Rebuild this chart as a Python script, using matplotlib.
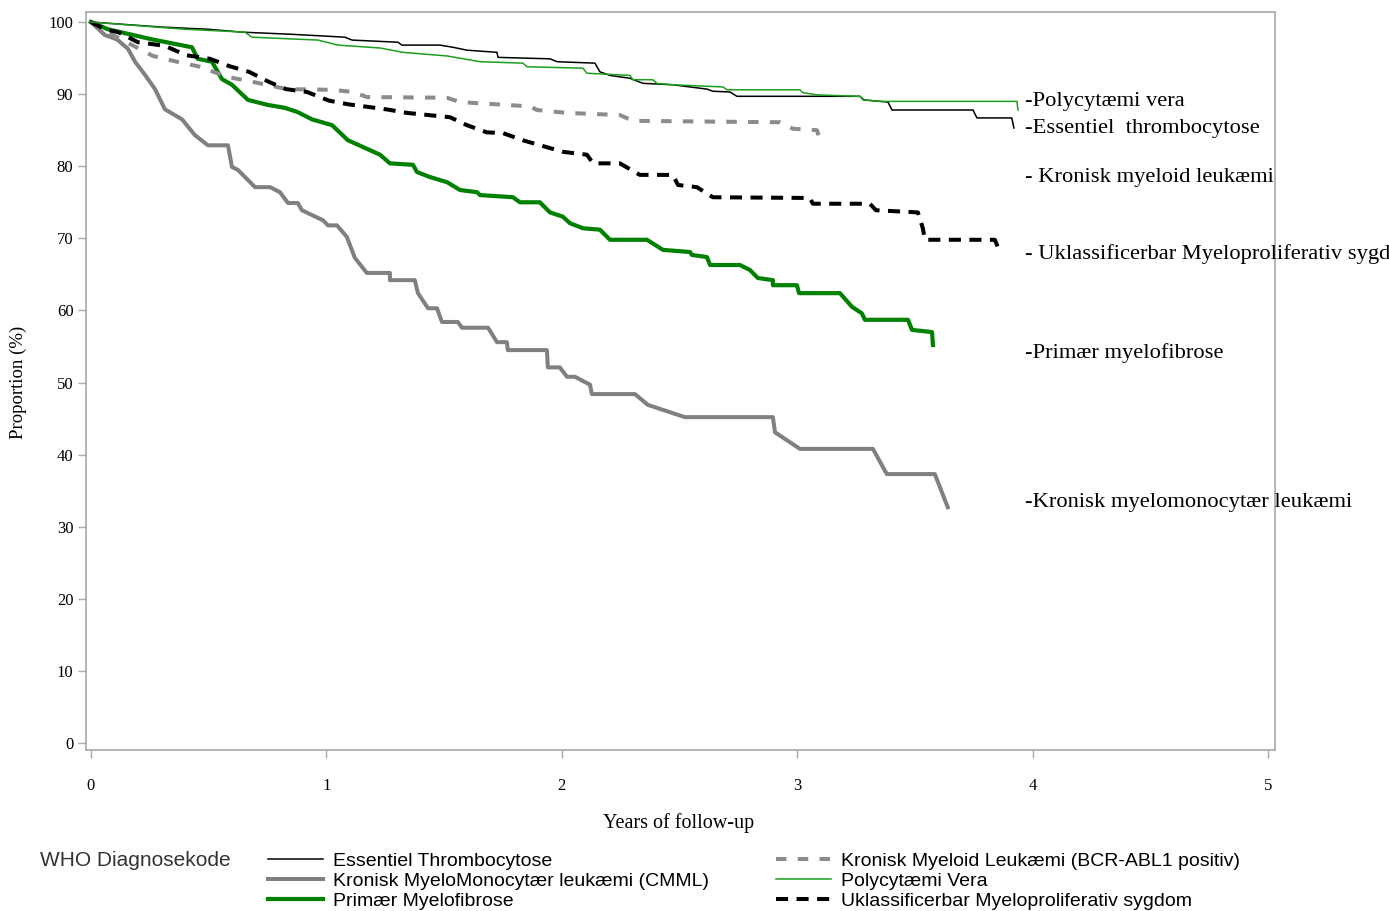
import matplotlib
matplotlib.use("Agg")
import matplotlib.pyplot as plt
from matplotlib.lines import Line2D

# Kaplan-Meier style curves (years, %)
et_t = [0, 0.302, 0.497, 0.641, 0.854, 1.079, 1.109, 1.304, 1.321, 1.483, 1.538, 1.597, 1.725, 1.729,
        1.950, 1.980, 2.141, 2.162, 2.205, 2.290, 2.345, 2.472, 2.617, 2.642, 2.715, 2.744, 3.267,
        3.284, 3.386, 3.403, 3.747, 3.764, 3.912, 3.921]
et_s = [100, 99.3, 99.0, 98.6, 98.3, 97.9, 97.5, 97.2, 96.8, 96.8, 96.5, 96.1, 95.8, 95.1,
        94.9, 94.5, 94.3, 93.1, 92.6, 92.2, 91.5, 91.3, 90.7, 90.4, 90.3, 89.7, 89.7,
        89.2, 88.9, 87.8, 87.8, 86.7, 86.7, 85.3]

cmml_t = [0, 0.059, 0.110, 0.157, 0.187, 0.229, 0.272, 0.314, 0.387, 0.442, 0.497, 0.582, 0.599,
          0.624, 0.697, 0.761, 0.803, 0.837, 0.879, 0.896, 0.986, 1.007, 1.045, 1.087, 1.121, 1.172,
          1.270, 1.270, 1.376, 1.389, 1.432, 1.470, 1.491, 1.559, 1.576, 1.687, 1.725, 1.767, 1.771,
          1.937, 1.941, 1.992, 2.022, 2.056, 2.120, 2.128, 2.311, 2.366, 2.523, 2.897, 2.906, 3.012,
          3.322, 3.381, 3.585, 3.640]
cmml_s = [100, 98.2, 97.6, 96.3, 94.5, 92.7, 90.7, 87.9, 86.5, 84.3, 82.9, 82.9, 79.9,
          79.5, 77.1, 77.1, 76.4, 74.9, 74.9, 73.9, 72.5, 71.8, 71.8, 70.2, 67.3, 65.2,
          65.2, 64.2, 64.2, 62.4, 60.3, 60.3, 58.4, 58.4, 57.6, 57.6, 55.6, 55.6, 54.5,
          54.5, 52.1, 52.1, 50.8, 50.8, 49.7, 48.4, 48.4, 46.9, 45.2, 45.2, 43.1, 40.8,
          40.8, 37.3, 37.3, 32.7]

pmf_t = [0, 0.072, 0.259, 0.429, 0.454, 0.514, 0.556, 0.599, 0.667, 0.752, 0.824, 0.879, 0.939,
         1.024, 1.092, 1.228, 1.270, 1.368, 1.385, 1.440, 1.512, 1.568, 1.640, 1.653, 1.793, 1.822,
         1.907, 1.950, 2.005, 2.035, 2.090, 2.162, 2.205, 2.362, 2.430, 2.545, 2.553, 2.617, 2.630,
         2.757, 2.800, 2.833, 2.897, 2.897, 2.999, 3.008, 3.182, 3.233, 3.275, 3.288, 3.471, 3.488,
         3.573, 3.577]
pmf_s = [100, 99.0, 97.6, 96.5, 94.9, 94.5, 92.1, 91.3, 89.2, 88.5, 88.1, 87.5, 86.5,
         85.7, 83.6, 81.6, 80.4, 80.2, 79.2, 78.5, 77.8, 76.7, 76.4, 76.0, 75.7, 75.0,
         75.0, 73.6, 73.0, 72.1, 71.4, 71.2, 69.8, 69.8, 68.4, 68.1, 67.7, 67.4, 66.3,
         66.3, 65.6, 64.5, 64.2, 63.5, 63.5, 62.4, 62.4, 60.5, 59.6, 58.7, 58.7, 57.3,
         57.0, 55.2]

cml_t = [0, 0.025, 0.093, 0.263, 0.365, 0.463, 0.578, 0.688, 0.833, 1.028, 1.113, 1.172, 1.512,
         1.568, 1.865, 1.895, 2.022, 2.247, 2.302, 2.927, 2.982, 3.084, 3.105]
cml_s = [100, 99.6, 98.2, 95.3, 94.5, 93.8, 92.4, 91.7, 90.7, 90.6, 90.3, 89.6, 89.5,
         88.9, 88.3, 87.8, 87.4, 87.1, 86.3, 86.1, 85.2, 85.0, 82.9]

pv_t = [0, 0.399, 0.654, 0.684, 0.964, 1.049, 1.228, 1.325, 1.512, 1.653, 1.835, 1.852, 2.090,
        2.107, 2.290, 2.302, 2.387, 2.404, 2.472, 2.685, 2.702, 3.012, 3.025, 3.084, 3.267, 3.280,
        3.352, 3.934, 3.938]
pv_s = [100, 99.0, 98.6, 97.9, 97.5, 96.8, 96.4, 95.8, 95.3, 94.5, 94.3, 93.8, 93.6,
        92.9, 92.6, 92.0, 92.0, 91.5, 91.3, 91.0, 90.6, 90.6, 90.2, 89.9, 89.7, 89.2,
        89.0, 89.0, 87.8]

ums_t = [0, 0.059, 0.115, 0.200, 0.314, 0.404, 0.506, 0.586, 0.671, 0.756, 0.828, 0.918, 1.011,
         1.092, 1.253, 1.342, 1.525, 1.597, 1.682, 1.750, 1.835, 2.005, 2.107, 2.133, 2.247, 2.332,
         2.472, 2.494, 2.574, 2.642, 3.054, 3.067, 3.309, 3.335, 3.513, 3.534, 3.543, 3.840, 3.862]
ums_s = [100, 99.0, 98.6, 97.2, 96.7, 95.4, 94.9, 93.9, 93.1, 91.7, 90.7, 90.3, 89.1,
         88.6, 87.9, 87.4, 86.8, 85.7, 84.7, 84.6, 83.6, 82.0, 81.6, 80.4, 80.4, 78.8,
         78.8, 77.4, 77.1, 75.7, 75.6, 74.8, 74.8, 73.9, 73.6, 71.4, 69.8, 69.8, 68.0]

legend_labels = ['Essentiel Thrombocytose', 'Kronisk MyeloMonocytær leukæmi (CMML)', 'Primær Myelofibrose',
                 'Kronisk Myeloid Leukæmi (BCR-ABL1 positiv)', 'Polycytæmi Vera',
                 'Uklassificerbar Myeloproliferativ sygdom']

# end-of-curve labels (text, y position in %)
end_labels = ['-Polycytæmi vera', '-Essentiel  thrombocytose', '- Kronisk myeloid leukæmi',
              '- Uklassificerbar Myeloproliferativ sygd', '-Primær myelofibrose',
              '-Kronisk myelomonocytær leukæmi']
end_label_y = [89.0, 85.3, 78.4, 67.8, 54.1, 33.3]
end_label_x = 3.968

fig = plt.figure(figsize=(13.89, 9.11), dpi=100)
ax = fig.add_axes([0.0619, 0.1767, 0.8560, 0.8101])

styles = [
    dict(color='black', lw=1.1),                                   # ET
    dict(color='#808080', lw=2.9),                                 # CMML
    dict(color='#008000', lw=3.0),                                 # PMF
    dict(color='#8c8c8c', lw=2.9, dashes=(2.6, 2.8)),              # CML
    dict(color='#1e9e1e', lw=1.1),                                 # PV
    dict(color='black', lw=2.9, dashes=(3.0, 2.1)),                # UMS
]
series = [(et_t, et_s), (cmml_t, cmml_s), (pmf_t, pmf_s), (cml_t, cml_s), (pv_t, pv_s), (ums_t, ums_s)]
# draw thick ones first so thin lines stay visible on top
order = [1, 2, 3, 5, 0, 4]
for i in order:
    t, s = series[i]
    ax.plot(t, s, **styles[i])

ax.set_xlim(-0.0212, 5.030)
ax.set_ylim(-0.97, 101.39)
ax.set_xticks([0, 1, 2, 3, 4, 5])
ax.set_yticks(range(0, 101, 10))

serif = ['Liberation Serif', 'DejaVu Serif']
for lab in ax.get_xticklabels() + ax.get_yticklabels():
    lab.set_family(serif)
    lab.set_fontsize(12)
ax.tick_params(axis='x', length=6, pad=14, color='#a5a9ad', width=1)
ax.tick_params(axis='y', length=6, pad=3, color='#a5a9ad', width=1)
for sp in ax.spines.values():
    sp.set_color('#a5a9ad')
    sp.set_linewidth(1.2)

fig.text(18 / 1389, 1 - 382 / 911, 'Proportion (%)', rotation=90, ha='center', va='center',
         family=serif, fontsize=13.5)
fig.text(679 / 1389, 1 - 823 / 911, 'Years of follow-up', ha='center', va='center',
         family=serif, fontsize=14.5)

for txt, yv in zip(end_labels, end_label_y):
    ax.text(end_label_x, yv, txt, ha='left', va='center', fontsize=16.2,
            family=serif, clip_on=False)

# legend
handles = [Line2D([], [], **styles[i]) for i in range(6)]
sans = ['Liberation Sans', 'DejaVu Sans']
leg_kw = dict(frameon=False, loc='upper left', borderpad=0, borderaxespad=0, labelspacing=0.12,
              handlelength=2.85, handletextpad=0.5, prop={'family': sans, 'size': 14})
leg1 = fig.legend(handles[:3], legend_labels[:3], bbox_to_anchor=(268 / 1389, 1 - 852 / 911), **leg_kw)
leg2 = fig.legend(handles[3:], legend_labels[3:], bbox_to_anchor=(776 / 1389, 1 - 852 / 911), **leg_kw)
fig.text(40 / 1389, 1 - 861 / 911, 'WHO Diagnosekode', ha='left', va='center',
         family=sans, fontsize=15, color='#333333')

fig.savefig('out.png', dpi=100)
